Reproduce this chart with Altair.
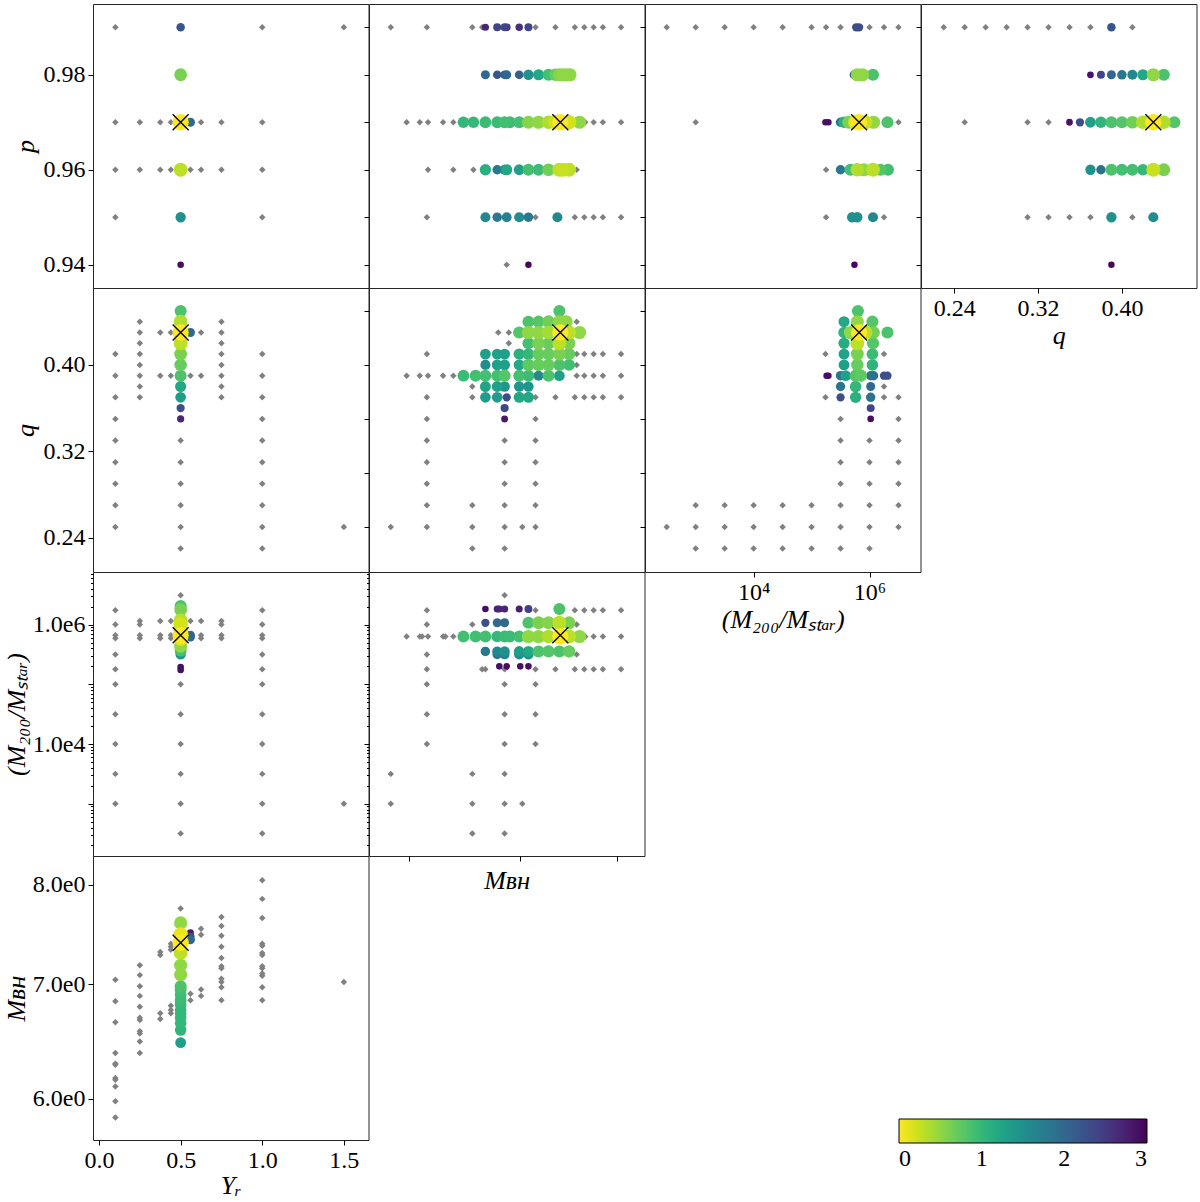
import altair as alt
import pandas as pd

FONT = "Times New Roman, Liberation Serif, serif"
W, H = 275.5, 284

# ---------------- axis domains ----------------
YR_DOM = [-0.037, 1.651]
P_DOM = [0.9351, 0.9949]
Q_DOM = [0.2083, 0.4712]
M200_LOG_DOM = [2.125, 6.88]
MBH_DOM = [5.676, 8.316]

# best-fit model (X marker); M200 stored as log10
BEST = {"Yr": 0.5, "p": 0.97, "q": 0.43, "M200": 5.82, "MBH": 7.40}

# ---------------- data: gray grid models and coloured (delta chi2) models ----------------
# dicts keyed by the level of one parameter; values list the other parameter (and delta chi2)

# row 1 : y = p
G_YR_P = {0.99: [0.1, 1.0, 1.5],
          0.97: [0.1, 0.25, 0.375, 0.44, 0.5, 0.625, 0.75, 1.0],
          0.96: [0.1, 0.25, 0.375, 0.44, 0.5, 0.56, 0.625, 0.75, 1.0],
          0.95: [0.1, 1.0]}
C_YR_P = {0.99: [(0.5, 2.2)], 0.98: [(0.5, 0.6)], 0.97: [(0.5, 0.0), (0.56, 2.0)],
          0.96: [(0.5, 0.3)], 0.95: [(0.5, 1.5)], 0.94: [(0.5, 2.9)]}

G_MBH_P = {0.99: [5.85, 6.15, 6.55, 6.64, 7.15, 7.35, 7.55, 7.65, 7.75, 7.85, 8.05],
           0.97: [5.98, 6.09, 6.16, 6.29, 6.38, 7.66, 7.75, 7.85, 8.05],
           0.96: [6.16, 6.38, 6.56, 7.57],
           0.95: [6.15, 7.15, 7.55, 7.65, 7.75, 7.85, 8.05],
           0.94: [6.87]}
C_MBH_P = {0.99: [(6.67, 2.7), (6.78, 2.4), (6.85, 2.4), (6.87, 2.5), (6.99, 2.6), (7.08, 2.4)],
           0.98: [(6.67, 2.0), (6.78, 2.2), (6.85, 2.1), (6.87, 2.0), (6.99, 2.1), (7.08, 1.5),
                  (7.18, 1.2), (7.28, 0.9), (7.35, 0.7), (7.39, 0.55), (7.43, 0.5), (7.46, 0.5), (7.50, 0.5)],
           0.97: [(6.47, 1.0), (6.56, 1.0), (6.67, 0.95), (6.78, 0.95), (6.85, 0.9), (6.90, 0.95),
                  (6.99, 0.9), (7.08, 0.55), (7.18, 0.5), (7.28, 0.35), (7.35, 0.2), (7.40, 0.0),
                  (7.49, 0.2), (7.60, 0.5)],
           0.96: [(6.67, 1.1), (6.78, 1.8), (6.85, 1.6), (6.87, 1.2), (6.99, 1.3), (7.08, 0.9),
                  (7.18, 0.95), (7.28, 0.65), (7.39, 0.3), (7.43, 0.25), (7.49, 0.3)],
           0.95: [(6.67, 1.6), (6.78, 1.8), (6.87, 1.7), (6.99, 1.55), (7.08, 1.8), (7.37, 1.6)],
           0.94: [(7.08, 2.95)]}

G_M200_P = {0.99: [2.5, 3.0, 3.5, 4.0, 4.5, 5.0, 5.25, 5.5, 6.0, 6.25, 6.5],
            0.97: [3.0, 6.5], 0.96: [5.25], 0.95: [5.25, 6.25]}
C_M200_P = {0.99: [(5.77, 2.3), (5.82, 2.3)],
            0.98: [(5.73, 2.2), (5.79, 0.5), (5.88, 0.5), (6.06, 0.85)],
            0.97: [(5.24, 2.9), (5.29, 2.9), (5.50, 1.8), (5.56, 1.1), (5.64, 0.6), (5.76, 0.1),
                   (5.82, 0.0), (5.93, 0.25), (6.07, 0.5), (6.31, 0.85)],
            0.96: [(5.50, 1.8), (5.67, 0.9), (5.79, 0.35), (5.90, 0.5), (6.06, 0.3), (6.19, 0.8), (6.32, 0.9)],
            0.95: [(5.70, 1.5), (5.79, 1.5), (6.06, 1.6)],
            0.94: [(5.74, 2.95)]}

G_Q_P = {0.99: [0.23, 0.25, 0.27, 0.29, 0.31, 0.33, 0.35, 0.37, 0.41],
         0.97: [0.25, 0.31, 0.33],
         0.95: [0.31, 0.33, 0.35, 0.37, 0.41]}
C_Q_P = {0.99: [(0.39, 2.2)],
         0.98: [(0.37, 2.85), (0.38, 2.4), (0.39, 2.0), (0.40, 1.8), (0.41, 1.6), (0.42, 1.2), (0.43, 0.5), (0.44, 0.85)],
         0.97: [(0.35, 2.85), (0.36, 2.3), (0.37, 1.3), (0.38, 1.05), (0.39, 0.85), (0.40, 0.8), (0.41, 0.65),
                (0.42, 0.35), (0.43, 0.0), (0.44, 0.35), (0.45, 0.8)],
         0.96: [(0.37, 1.5), (0.38, 1.85), (0.39, 0.85), (0.40, 0.9), (0.41, 0.9), (0.42, 1.0), (0.43, 0.25), (0.44, 0.6)],
         0.95: [(0.39, 1.5), (0.43, 1.55)],
         0.94: [(0.39, 2.95)]}

# row 2 : y = q  (Yr panel keyed by Yr)
G_YR_Q = {0.1: [0.41, 0.39, 0.37, 0.35, 0.33, 0.31, 0.29, 0.27, 0.25],
          0.25: [0.44, 0.43, 0.42, 0.41, 0.40, 0.39, 0.38, 0.37],
          0.375: [0.43, 0.39], 0.44: [0.43, 0.39],
          0.5: [0.33, 0.31, 0.29, 0.27, 0.25, 0.23],
          0.56: [0.39], 0.625: [0.43, 0.39],
          0.75: [0.44, 0.43, 0.42, 0.41, 0.40, 0.39, 0.38, 0.37],
          1.0: [0.41, 0.39, 0.37, 0.35, 0.33, 0.31, 0.29, 0.27, 0.25, 0.23],
          1.5: [0.25]}
C_YR_Q = {0.5: [(0.45, 0.85), (0.44, 0.35), (0.43, 0.0), (0.42, 0.3), (0.41, 0.6), (0.40, 0.7),
                (0.39, 0.85), (0.38, 1.2), (0.37, 1.35), (0.36, 2.3), (0.35, 2.7)],
          0.56: [(0.43, 2.0)]}

G_MBH_Q = {0.44: [7.57], 0.43: [6.79, 6.89], 0.42: [6.89],
           0.41: [6.15, 7.57, 7.65, 7.75, 7.85, 8.05], 0.40: [7.57],
           0.39: [5.98, 6.09, 6.16, 6.29, 6.38, 7.57, 7.65, 7.75, 7.85, 8.05],
           0.38: [6.55],
           0.37: [6.15, 6.55, 7.15, 7.35, 7.55, 7.65, 7.75, 7.85, 8.05],
           0.35: [6.15, 7.15], 0.33: [6.15, 6.85, 7.15], 0.31: [6.15, 6.85, 7.15],
           0.29: [6.15, 6.85, 7.15], 0.27: [6.15, 6.55, 6.85, 7.15],
           0.25: [5.85, 6.15, 6.55, 6.85, 7.02, 7.15], 0.23: [6.55, 6.85]}
C_MBH_Q = {0.45: [(7.39, 0.85)],
           0.44: [(7.08, 0.85), (7.18, 0.8), (7.28, 0.65), (7.39, 0.5), (7.46, 0.5)],
           0.43: [(6.99, 0.8), (7.08, 0.5), (7.18, 0.5), (7.28, 0.4), (7.40, 0.0), (7.49, 0.3), (7.60, 0.5)],
           0.42: [(7.08, 0.9), (7.18, 0.6), (7.28, 0.7), (7.39, 0.3), (7.49, 0.6)],
           0.41: [(6.67, 1.3), (6.78, 1.3), (6.85, 1.3), (6.99, 1.1), (7.08, 1.0), (7.18, 0.7), (7.28, 0.7),
                  (7.39, 0.6), (7.49, 0.7)],
           0.40: [(6.67, 1.55), (6.78, 1.3), (6.85, 1.3), (6.99, 1.2), (7.08, 0.75), (7.18, 0.7), (7.28, 0.7),
                  (7.39, 0.85), (7.49, 0.9)],
           0.39: [(6.47, 0.95), (6.58, 0.9), (6.67, 0.9), (6.78, 0.9), (6.85, 0.8), (6.99, 0.9), (7.08, 0.95),
                  (7.18, 1.6), (7.28, 0.85), (7.39, 1.3)],
           0.38: [(6.67, 1.25), (6.78, 1.3), (6.85, 1.4), (6.99, 1.45), (7.08, 1.45)],
           0.37: [(6.67, 1.35), (6.78, 1.35), (6.87, 2.3), (6.99, 1.2), (7.08, 1.2)],
           0.36: [(6.85, 2.35)], 0.35: [(6.85, 2.8)]}

G_M200_Q = {0.41: [5.24, 6.25], 0.38: [6.25], 0.37: [5.24, 6.25, 6.5], 0.35: [5.5, 6.5],
            0.33: [5.5, 6.0, 6.5], 0.31: [5.5, 6.0, 6.5], 0.29: [5.5, 6.0, 6.5],
            0.27: [3.0, 3.5, 4.0, 4.5, 5.0, 5.5, 6.0, 6.5],
            0.25: [2.5, 3.0, 3.5, 4.0, 4.5, 5.0, 5.5, 6.0, 6.5],
            0.23: [3.0, 3.5, 4.0, 4.5, 5.0, 5.5, 6.0]}
C_M200_Q = {0.45: [(5.80, 0.85)],
            0.44: [(5.56, 1.2), (5.79, 0.5), (6.05, 0.8)],
            0.43: [(5.56, 1.05), (5.67, 0.5), (5.82, 0.0), (5.93, 0.3), (6.07, 0.65), (6.31, 0.85)],
            0.42: [(5.56, 1.15), (5.79, 0.3), (6.06, 0.8)],
            0.41: [(5.56, 1.25), (5.79, 0.6), (6.05, 0.95)],
            0.40: [(5.56, 1.3), (5.79, 0.7), (6.05, 1.05)],
            0.39: [(5.26, 2.9), (5.29, 2.9), (5.50, 1.8), (5.59, 1.3), (5.76, 0.8), (5.85, 0.75),
                   (6.02, 1.85), (6.07, 1.85), (6.25, 2.3), (6.31, 2.3)],
            0.38: [(5.50, 1.85), (5.76, 1.0), (6.02, 2.0)],
            0.37: [(5.50, 2.3), (5.76, 1.1), (6.02, 1.85)],
            0.36: [(6.02, 2.4)], 0.35: [(6.02, 2.9)]}

# row 3 : y = log10(M200/Mstar)
G_YR_M200 = {0.1: [6.24, 6.0, 5.82, 5.77, 5.5, 5.25, 5.0, 4.5, 4.0, 3.5, 3.0],
             0.25: [6.06, 6.0, 5.82, 5.77], 0.375: [6.06, 5.82, 5.77], 0.44: [6.06, 5.82, 5.77],
             0.5: [6.49, 5.0, 4.5, 4.0, 3.5, 3.0, 2.5], 0.56: [6.06],
             0.625: [6.06, 5.82, 5.77], 0.75: [6.06, 6.0, 5.82, 5.77],
             1.0: [6.24, 6.0, 5.82, 5.77, 5.5, 5.25, 5.0, 4.5, 4.0, 3.5, 3.0, 2.5],
             1.5: [3.0]}
C_YR_M200 = {0.5: [(6.31, 0.85), (6.25, 0.6), (6.07, 0.3), (6.0, 0.2), (5.90, 0.25), (5.82, 0.0),
                   (5.77, 0.1), (5.64, 0.5), (5.56, 0.9), (5.50, 1.5), (5.29, 2.9), (5.24, 2.9)],
             0.56: [(5.82, 2.0), (5.79, 2.0)]}

G_MBH_M200 = {6.49: [6.85], 6.24: [6.15, 7.15, 7.55, 7.65, 7.75, 7.85, 8.05], 6.0: [6.15, 6.55, 7.57],
              5.8: [5.98, 6.09, 6.11, 6.16, 6.29, 6.31, 6.38, 7.66, 7.75, 7.85, 8.05],
              5.5: [6.15, 7.57],
              5.25: [6.15, 6.64, 6.67, 6.85, 7.15, 7.35, 7.55, 7.65, 7.75, 7.85, 8.05],
              5.0: [6.15, 6.85, 7.15], 4.5: [6.15, 6.85, 7.15], 4.0: [6.15, 6.85, 7.15],
              3.5: [5.85, 6.55, 6.85], 3.0: [5.85, 6.55, 6.85, 7.02], 2.5: [6.55, 6.85]}
C_MBH_M200 = {6.26: [(6.67, 2.9), (6.78, 2.75), (6.80, 2.7), (6.85, 2.7), (6.99, 2.75), (7.08, 2.45), (7.39, 0.85)],
              6.03: [(6.67, 2.3), (6.78, 2.0), (6.85, 2.0), (7.08, 0.85), (7.18, 0.6), (7.28, 0.55),
                     (7.39, 0.3), (7.49, 0.6)],
              5.80: [(6.47, 0.9), (6.58, 0.9), (6.67, 0.9), (6.78, 1.0), (6.85, 0.95), (6.90, 0.95), (6.99, 0.9),
                     (7.08, 0.5), (7.18, 0.5), (7.28, 0.35), (7.40, 0.0), (7.49, 0.3), (7.60, 0.5)],
              5.55: [(6.67, 1.8), (6.78, 1.6), (6.85, 1.5), (6.99, 1.35), (7.08, 1.2), (7.18, 0.85),
                     (7.28, 0.8), (7.39, 0.85), (7.49, 0.7)],
              5.50: [(6.78, 1.8), (6.85, 1.7), (6.99, 1.55), (7.08, 1.5)],
              5.30: [(6.80, 2.9), (6.87, 2.9), (7.00, 2.9), (7.08, 2.9)]}

# row 4 : y = M_BH
G_YR_MBH = {0.1: [7.04, 6.84, 6.65, 6.38, 6.29, 6.28, 6.17, 6.156, 6.10, 5.98, 5.85],
            0.25: [7.18, 7.085, 6.98, 6.89, 6.79, 6.69, 6.67, 6.57, 6.55, 6.48, 6.38],
            0.375: [7.31, 7.28, 6.73, 6.68], 0.44: [7.39, 7.36, 7.33, 6.80, 6.76, 6.73],
            0.5: [7.75], 0.56: [6.91, 6.85], 0.625: [7.54, 7.48, 6.95, 6.89],
            0.75: [7.66, 7.57, 7.47, 7.36, 7.25, 7.17, 7.15, 7.05, 7.02, 6.97, 6.85],
            1.0: [8.05, 7.85, 7.65, 7.39, 7.37, 7.30, 7.28, 7.17, 7.15, 7.10, 7.08, 6.97, 6.85],
            1.5: [7.02]}
C_YR_MBH = {0.5: [(7.60, 0.5), (7.48, 0.1), (7.40, 0.0), (7.30, 0.3), (7.18, 0.5), (7.09, 0.5), (6.98, 0.85),
                  (6.95, 0.9), (6.90, 0.95), (6.85, 0.95), (6.81, 1.0), (6.76, 1.0), (6.73, 1.0), (6.69, 1.0),
                  (6.64, 1.0), (6.58, 1.05), (6.47, 1.3)],
            0.56: [(7.50, 2.8), (7.46, 2.3), (7.43, 2.0)]}

# tick values
P_TICKS_LAB = [0.94, 0.96, 0.98]
P_TICKS = [0.94, 0.95, 0.96, 0.97, 0.98, 0.99]
Q_TICKS_LAB = [0.24, 0.32, 0.40]
Q_TICKS = [0.25, 0.30, 0.35, 0.40, 0.45]
M200_MAJOR = [1e3, 1e4, 1e5, 1e6]
M200_MINOR = [k * 10 ** e for e in range(2, 7) for k in range(2, 10) if 10 ** 2.125 < k * 10 ** e < 10 ** 6.88]
MBH_TICKS = [6, 7, 8]
YR_TICKS = [0.0, 0.5, 1.0, 1.5]

# ---------------- helpers ----------------
XPATH = "M-1,-1L1,1M-1,1L1,-1"
MAJOR_TEST = "abs(log(datum.value)/LN10 - round(log(datum.value)/LN10)) < 0.001"


def sc(var):
    if var == "Yr":
        return alt.Scale(domain=YR_DOM, nice=False, zero=False)
    if var == "p":
        return alt.Scale(domain=P_DOM, nice=False, zero=False)
    if var == "q":
        return alt.Scale(domain=Q_DOM, nice=False, zero=False)
    if var == "M200":
        return alt.Scale(type="log", domain=[10 ** M200_LOG_DOM[0], 10 ** M200_LOG_DOM[1]], nice=False)
    return alt.Scale(type="log", domain=MBH_DOM, nice=False)


def frames(gray, col, key_is_x):
    g, c = [], []
    for k, vals in gray.items():
        for o in vals:
            g.append((k, o) if key_is_x else (o, k))
    for k, vals in col.items():
        for o, v in vals:
            c.append((k, o, v) if key_is_x else (o, k, v))
    gdf = pd.DataFrame(g, columns=["x", "y"])
    cdf = pd.DataFrame(c, columns=["x", "y", "v"]).sort_values("v", ascending=False)
    cdf["s"] = cdf["v"]
    return gdf, cdf


LEG = alt.Legend(orient="none", legendX=806, legendY=1115, direction="horizontal", type="gradient",
                 gradientLength=248, gradientThickness=24, title=None, values=[0, 1, 2, 3], format="d",
                 labelFont=FONT, labelFontSize=24, labelColor="black", gradientStrokeColor="black",
                 gradientStrokeWidth=1, padding=0, labelOffset=4)


def panel(xv, yv, gray, col, key_is_x, xaxis, yaxis):
    gdf, cdf = frames(gray, col, key_is_x)
    bdf = pd.DataFrame({"x": [BEST[xv]], "y": [BEST[yv]]})
    for df in (gdf, cdf, bdf):
        if xv == "M200":
            df["x"] = 10 ** df["x"]
        if yv == "M200":
            df["y"] = 10 ** df["y"]
    X = alt.X("x:Q", scale=sc(xv), axis=xaxis)
    Y = alt.Y("y:Q", scale=sc(yv), axis=yaxis)
    g = alt.Chart(gdf).mark_point(shape="diamond", filled=True, color="#808080", size=42, opacity=1).encode(X, Y)
    c = alt.Chart(cdf).mark_circle(opacity=1).encode(
        X, Y,
        color=alt.Color("v:Q", scale=alt.Scale(scheme="viridis", reverse=True, domain=[0, 3]), legend=LEG),
        size=alt.Size("s:Q", scale=alt.Scale(type="sqrt", domain=[3, 0], range=[40, 265]), legend=None),
        order=alt.Order("v:Q", sort="descending"))
    b = alt.Chart(bdf).mark_point(shape=XPATH, filled=False, color="black", strokeWidth=1.3,
                                  size=256, opacity=1).encode(X, Y)
    return alt.layer(g, c, b).properties(width=W, height=H)


def ax(values, labels=False, title="", fmt=None, expr=None, tpad=None, minor=False):
    kw = dict(values=values, labels=labels, grid=False, domain=False, ticks=True)
    kw["title"] = title if title else None
    if fmt:
        kw["format"] = fmt
    if expr:
        kw["labelExpr"] = expr
    if tpad is not None:
        kw["titlePadding"] = tpad
    if minor:
        kw["tickSize"] = {"condition": {"test": MAJOR_TEST, "value": 5}, "value": 2.5}
    return alt.Axis(**kw)


NOX = None
E_SCI = "replace(format(datum.value, '.1e'), '+', '')"
E_SCI_M = "(datum.value == 10000 || datum.value == 1000000) ? replace(format(datum.value, '.1e'), '+', '') : ''"
E_POW = "datum.value < 100000 ? '10⁴' : '10⁶'"

Y_P_L = ax(P_TICKS_LAB, True, "p", ".2f", tpad=5)
Y_P = ax(P_TICKS)
Y_Q_L = ax(Q_TICKS_LAB, True, "q", ".2f", tpad=5)
Y_Q = ax(Q_TICKS)
Y_M_L = ax(M200_MAJOR + M200_MINOR, True, "(M₂₀₀/Mₛₜₐᵣ)", expr=E_SCI_M, tpad=3, minor=True)
Y_M = ax(M200_MAJOR + M200_MINOR, minor=True)
Y_B_L = ax(MBH_TICKS, True, "Mʙʜ", expr=E_SCI, tpad=3)

X_Q = ax(Q_TICKS_LAB, True, "q", ".2f", tpad=2)
X_M = ax([1e4, 1e6], True, "(M₂₀₀/Mₛₜₐᵣ)", expr=E_POW, tpad=2)
X_B = ax(MBH_TICKS, False, "Mʙʜ", tpad=6)
X_Y = ax(YR_TICKS, True, "Yᵣ", ".1f", tpad=0)

p11 = panel("Yr", "p", G_YR_P, C_YR_P, False, NOX, Y_P_L)
p12 = panel("MBH", "p", G_MBH_P, C_MBH_P, False, NOX, Y_P)
p13 = panel("M200", "p", G_M200_P, C_M200_P, False, NOX, Y_P)
p14 = panel("q", "p", G_Q_P, C_Q_P, False, X_Q, Y_P)

p21 = panel("Yr", "q", G_YR_Q, C_YR_Q, True, NOX, Y_Q_L)
p22 = panel("MBH", "q", G_MBH_Q, C_MBH_Q, False, NOX, Y_Q)
p23 = panel("M200", "q", G_M200_Q, C_M200_Q, False, X_M, Y_Q)

p31 = panel("Yr", "M200", G_YR_M200, C_YR_M200, True, NOX, Y_M_L)
p32 = panel("MBH", "M200", G_MBH_M200, C_MBH_M200, False, X_B, Y_M)

p41 = panel("Yr", "MBH", G_YR_MBH, C_YR_MBH, True, X_Y, Y_B_L)


def blank():
    return alt.Chart(pd.DataFrame({"a": [0]})).mark_point(opacity=0).encode(
        x=alt.X("a:Q", axis=None), y=alt.Y("a:Q", axis=None)
    ).properties(width=W, height=H, view=alt.ViewBackground(stroke="transparent"))


chart = alt.concat(
    p11, p12, p13, p14,
    p21, p22, p23, blank(),
    p31, p32, blank(), blank(),
    p41,
    columns=4, spacing=0, bounds="flush"
).resolve_scale(color="shared", size="shared").properties(
    padding={"left": 2, "top": 3, "right": 3, "bottom": 0}
).configure_view(stroke="#262626", strokeWidth=1).configure_axis(
    labelFont=FONT, titleFont=FONT, labelFontSize=24, titleFontSize=26, labelColor="black",
    titleColor="black", tickColor="black", tickSize=5, tickWidth=1, titleFontWeight="normal",
    titleFontStyle="italic", labelFlush=False, labelPadding=3, titlePadding=6, labelOverlap=False
)

chart.save("out.html", embed_options={"renderer": "svg", "actions": False})
